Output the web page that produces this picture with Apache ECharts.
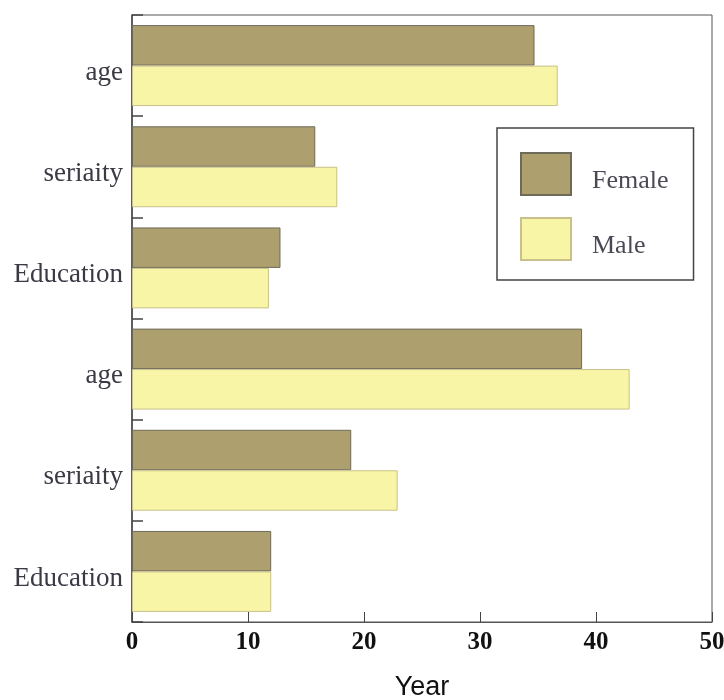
<!DOCTYPE html>
<html><head><meta charset="utf-8">
<script src="https://cdn.jsdelivr.net/npm/echarts@6/dist/echarts.min.js"></script>
<style>html,body{margin:0;padding:0;background:#fff}#c{width:724px;height:700px}</style>
</head><body><div id="c"></div>
<script>
var categories = ['age', 'seriaity', 'Education', 'age', 'seriaity', 'Education'];
var femaleValues = [34.7, 15.8, 12.8, 38.8, 18.9, 12.0];
var maleValues = [36.7, 17.7, 11.8, 42.9, 22.9, 12.0];
var xTicks = [0, 10, 20, 30, 40, 50];

var chart = echarts.init(document.getElementById('c'));
chart.setOption({
  animation: false,
  backgroundColor: '#fff',
  grid: { left: 132, right: 12, top: 15, bottom: 78, show: true, borderColor: '#555', borderWidth: 1,
          backgroundColor: 'transparent', containLabel: false, outerBoundsMode: 'none' },
  legend: {
    orient: 'vertical', left: 497, top: 128,
    itemWidth: 50, itemHeight: 42, itemGap: 21,
    padding: [24, 25, 19, 23],
    borderColor: '#444', borderWidth: 1.5,
    icon: 'rect',
    formatter: function (name) { return '{t|' + name + '}'; },
    textStyle: {
      fontFamily: 'Liberation Serif', fontSize: 26, color: '#4a4a55',
      rich: { t: { fontFamily: 'Liberation Serif', fontSize: 26, color: '#4a4a55', padding: [14, 0, 0, 16] } }
    },
    data: ['Female', 'Male']
  },
  xAxis: {
    type: 'value', min: xTicks[0], max: xTicks[xTicks.length - 1], interval: 10,
    name: 'Year', nameLocation: 'middle', nameGap: 52,
    nameTextStyle: { fontFamily: 'Liberation Sans', fontSize: 27, color: '#111' },
    axisLine: { show: true, lineStyle: { color: '#555', width: 1 } },
    axisTick: { show: true, inside: true, length: 10, lineStyle: { color: '#444' } },
    axisLabel: { fontFamily: 'Liberation Serif', fontWeight: 'bold', fontSize: 25, color: '#111', margin: 8 },
    splitLine: { show: false }
  },
  yAxis: {
    type: 'category', inverse: true, data: categories,
    axisLine: { show: true, lineStyle: { color: '#444', width: 1.5 } },
    axisTick: { show: true, inside: true, length: 11, lineStyle: { color: '#444', width: 1.5 } },
    axisLabel: {
      margin: 9,
      formatter: function (v) { return '{t|' + v + '}'; },
      rich: { t: { fontFamily: 'Liberation Serif', fontSize: 27, color: '#3a3a45', padding: [14, 0, 0, 0] } }
    }
  },
  series: [
    { name: 'Female', type: 'bar', data: femaleValues, barCategoryGap: '20%', barGap: '0%',
      itemStyle: { color: '#ae9f6e', borderColor: '#6e6a5a', borderWidth: 1 } },
    { name: 'Male', type: 'bar', data: maleValues, barCategoryGap: '20%', barGap: '0%',
      itemStyle: { color: '#f8f5a6', borderColor: '#c9c08a', borderWidth: 1 } }
  ]
});
</script></body></html>
